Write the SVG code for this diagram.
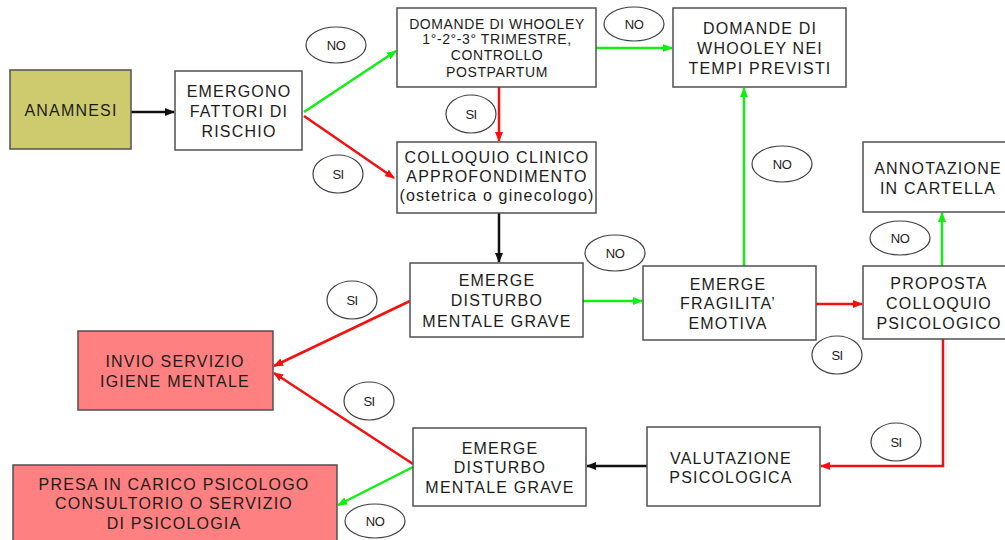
<svg xmlns="http://www.w3.org/2000/svg" width="1005" height="540" viewBox="0 0 1005 540">
<defs>
<style>
.box{fill:#ffffff;stroke:#505050;stroke-width:1.5}
.olive{fill:#CECB6F}
.pink{fill:#FF8080}
.t{font-family:"Liberation Sans",Arial,sans-serif;font-size:16px;letter-spacing:1.2px;fill:#1c1c1c;text-anchor:middle}
.ts{font-family:"Liberation Sans",Arial,sans-serif;font-size:14px;letter-spacing:0.6px;fill:#1c1c1c;text-anchor:middle}
.lbl{fill:#ffffff;stroke:#404040;stroke-width:1.2}
.lt{font-family:"Liberation Sans",Arial,sans-serif;font-size:13px;letter-spacing:-0.6px;fill:#1c1c1c;text-anchor:middle}
.k{stroke:#111111;stroke-width:2.5;fill:none}
.g{stroke:#11EE11;stroke-width:2.5;fill:none}
.r{stroke:#F51010;stroke-width:2.5;fill:none}
</style>
<marker id="ak" markerUnits="userSpaceOnUse" markerWidth="10" markerHeight="8" refX="9" refY="4" orient="auto"><path d="M0,0 L10,4 L0,8 z" fill="#111111"/></marker>
<marker id="ag" markerUnits="userSpaceOnUse" markerWidth="10" markerHeight="8" refX="9" refY="4" orient="auto"><path d="M0,0 L10,4 L0,8 z" fill="#11EE11"/></marker>
<marker id="ar" markerUnits="userSpaceOnUse" markerWidth="10" markerHeight="8" refX="9" refY="4" orient="auto"><path d="M0,0 L10,4 L0,8 z" fill="#F51010"/></marker>
</defs>
<rect width="1005" height="540" fill="#ffffff"/>

<g id="connectors">
<line class="k" x1="131" y1="112" x2="174" y2="112" marker-end="url(#ak)"/>
<line class="g" x1="304" y1="112" x2="396" y2="51" marker-end="url(#ag)"/>
<line class="r" x1="304" y1="116" x2="394" y2="178" marker-end="url(#ar)"/>
<line class="r" x1="499" y1="87" x2="499" y2="141" marker-end="url(#ar)"/>
<line class="g" x1="596" y1="48" x2="672" y2="48" marker-end="url(#ag)"/>
<line class="k" x1="499" y1="213" x2="499" y2="262" marker-end="url(#ak)"/>
<line class="g" x1="583" y1="301" x2="642" y2="301" marker-end="url(#ag)"/>
<line class="g" x1="744" y1="266" x2="744" y2="88" marker-end="url(#ag)"/>
<line class="r" x1="816" y1="304" x2="862" y2="304" marker-end="url(#ar)"/>
<line class="g" x1="942" y1="266" x2="942" y2="213" marker-end="url(#ag)"/>
<polyline class="r" points="943,339 943,466 821,466" marker-end="url(#ar)"/>
<line class="k" x1="647" y1="466" x2="587" y2="466" marker-end="url(#ak)"/>
<line class="r" x1="410" y1="301" x2="274" y2="366" marker-end="url(#ar)"/>
<line class="r" x1="413" y1="464" x2="274" y2="373" marker-end="url(#ar)"/>
<line class="g" x1="413" y1="467" x2="338" y2="505" marker-end="url(#ag)"/>
</g>

<g id="labels">
<ellipse class="lbl" cx="336" cy="45" rx="30" ry="18"/><text class="lt" x="336" y="50">NO</text>
<ellipse class="lbl" cx="471" cy="114" rx="25" ry="19"/><text class="lt" x="471" y="119">SI</text>
<ellipse class="lbl" cx="338" cy="174" rx="25" ry="19"/><text class="lt" x="338" y="179">SI</text>
<ellipse class="lbl" cx="634" cy="24" rx="30" ry="17"/><text class="lt" x="634" y="29">NO</text>
<ellipse class="lbl" cx="782" cy="164" rx="30" ry="18"/><text class="lt" x="782" y="169">NO</text>
<ellipse class="lbl" cx="900" cy="238" rx="30" ry="17"/><text class="lt" x="900" y="243">NO</text>
<ellipse class="lbl" cx="615" cy="253" rx="30" ry="18"/><text class="lt" x="615" y="258">NO</text>
<ellipse class="lbl" cx="837" cy="355" rx="25" ry="19"/><text class="lt" x="837" y="360">SI</text>
<ellipse class="lbl" cx="896" cy="442" rx="25" ry="19"/><text class="lt" x="896" y="447">SI</text>
<ellipse class="lbl" cx="352" cy="300" rx="25" ry="19"/><text class="lt" x="352" y="305">SI</text>
<ellipse class="lbl" cx="369" cy="401" rx="25" ry="19"/><text class="lt" x="369" y="406">SI</text>
<ellipse class="lbl" cx="375" cy="521" rx="30" ry="17"/><text class="lt" x="375" y="526">NO</text>
</g>

<g id="anamnesi">
<rect class="box olive" x="10" y="70" width="121" height="79"/>
<text class="t" x="71" y="116">ANAMNESI</text>
</g>

<g id="emergono">
<rect class="box" x="175" y="71" width="127" height="79"/>
<text class="t" x="239" y="97">EMERGONO</text>
<text class="t" x="239" y="117">FATTORI DI</text>
<text class="t" x="239" y="137">RISCHIO</text>
</g>

<g id="domande-whooley">
<rect class="box" x="397" y="8" width="199" height="79"/>
<text class="ts" x="497" y="29">DOMANDE DI WHOOLEY</text>
<text class="ts" x="497" y="44">1°-2°-3° TRIMESTRE,</text>
<text class="ts" x="497" y="60">CONTROLLO</text>
<text class="ts" x="497" y="77">POSTPARTUM</text>
</g>

<g id="domande-tempi">
<rect class="box" x="673" y="8" width="173" height="79"/>
<text class="t" x="760" y="34">DOMANDE DI</text>
<text class="t" x="760" y="54">WHOOLEY NEI</text>
<text class="t" x="760" y="74">TEMPI PREVISTI</text>
</g>

<g id="colloquio-clinico">
<rect class="box" x="397" y="142" width="199" height="71"/>
<text class="t" x="497" y="163">COLLOQUIO CLINICO</text>
<text class="t" x="497" y="182">APPROFONDIMENTO</text>
<text class="t" x="497" y="201">(ostetrica o ginecologo)</text>
</g>

<g id="annotazione">
<rect class="box" x="863" y="142" width="160" height="70"/>
<text class="t" x="938" y="174">ANNOTAZIONE</text>
<text class="t" x="938" y="194">IN CARTELLA</text>
</g>

<g id="disturbo-1">
<rect class="box" x="410" y="263" width="173" height="74"/>
<text class="t" x="497" y="286">EMERGE</text>
<text class="t" x="497" y="306">DISTURBO</text>
<text class="t" x="497" y="327">MENTALE GRAVE</text>
</g>

<g id="fragilita">
<rect class="box" x="643" y="266" width="173" height="74"/>
<text class="t" x="728" y="290">EMERGE</text>
<text class="t" x="728" y="309">FRAGILITA’</text>
<text class="t" x="728" y="329">EMOTIVA</text>
</g>

<g id="proposta">
<rect class="box" x="863" y="266" width="160" height="73"/>
<text class="t" x="939" y="289">PROPOSTA</text>
<text class="t" x="939" y="309">COLLOQUIO</text>
<text class="t" x="939" y="329">PSICOLOGICO</text>
</g>

<g id="invio">
<rect class="box pink" x="78" y="331" width="195" height="79"/>
<text class="t" x="175" y="367">INVIO SERVIZIO</text>
<text class="t" x="175" y="387">IGIENE MENTALE</text>
</g>

<g id="disturbo-2">
<rect class="box" x="413" y="428" width="173" height="78"/>
<text class="t" x="500" y="454">EMERGE</text>
<text class="t" x="500" y="473">DISTURBO</text>
<text class="t" x="500" y="493">MENTALE GRAVE</text>
</g>

<g id="valutazione">
<rect class="box" x="647" y="427" width="173" height="79"/>
<text class="t" x="731" y="464">VALUTAZIONE</text>
<text class="t" x="731" y="483">PSICOLOGICA</text>
</g>

<g id="presa-in-carico">
<rect class="box pink" x="13" y="465" width="324" height="90"/>
<text class="t" x="174" y="490">PRESA IN CARICO PSICOLOGO</text>
<text class="t" x="174" y="509">CONSULTORIO O SERVIZIO</text>
<text class="t" x="174" y="529">DI PSICOLOGIA</text>
</g>
</svg>
